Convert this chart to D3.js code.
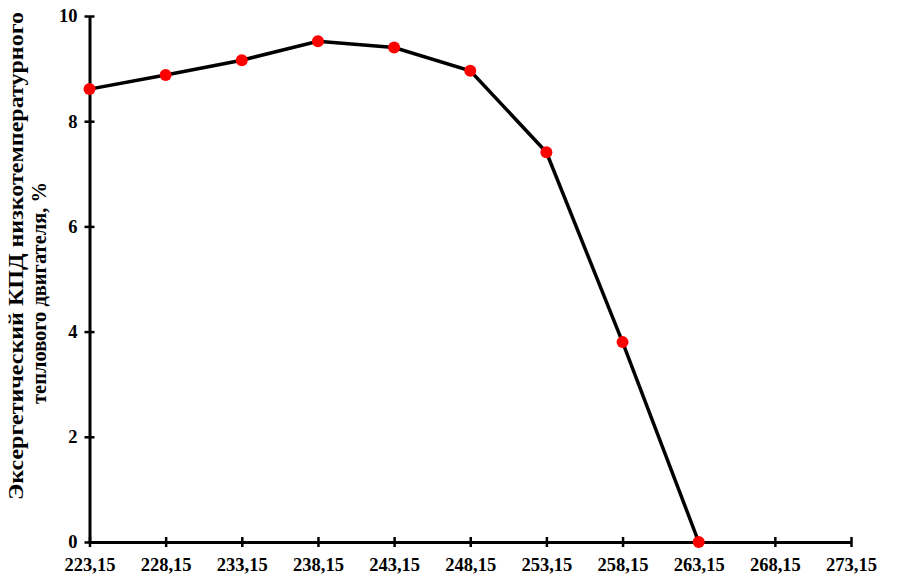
<!DOCTYPE html>
<html>
<head>
<meta charset="utf-8">
<script src="https://cdn.jsdelivr.net/npm/d3@7"></script>
<style>
  body { margin: 0; background: #fff; }
  svg text { font-family: "Liberation Serif", "Times New Roman", serif; font-weight: bold; fill: #000; }
</style>
</head>
<body>
<div id="chart"></div>
<script>
// Data
const temperatures = [223.15, 228.15, 233.15, 238.15, 243.15, 248.15, 253.15, 258.15, 263.15];
const efficiency = [8.61, 8.88, 9.16, 9.52, 9.40, 8.96, 7.41, 3.80, 0];
const xTicks = [223.15, 228.15, 233.15, 238.15, 243.15, 248.15, 253.15, 258.15, 263.15, 268.15, 273.15];
const yTicks = [0, 2, 4, 6, 8, 10];
const yLabelLines = ["Эксергетический КПД низкотемпературного", "теплового двигателя, %"];

const width = 913;
const height = 578;
const margin = { top: 16, right: 62, bottom: 36, left: 89.5 };

const svg = d3.select("#chart")
    .append("svg")
    .attr("width", width)
    .attr("height", height);

const x = d3.scaleLinear()
    .domain([223.15, 273.15])
    .range([margin.left, width - margin.right]);

const y = d3.scaleLinear()
    .domain([0, 10])
    .range([height - margin.bottom, margin.top]);

const fmt = d => d.toFixed(2).replace(".", ",");

// Axes: ticks cross the axis line
const xAxis = svg.append("g")
    .attr("transform", `translate(0,${y(0)})`)
    .call(d3.axisBottom(x).tickValues(xTicks).tickFormat(fmt).tickSize(0).tickPadding(16));
xAxis.selectAll(".tick line").attr("y1", -5).attr("y2", 5);

const yAxis = svg.append("g")
    .attr("transform", `translate(${x(223.15)},0)`)
    .call(d3.axisLeft(y).tickValues(yTicks).tickSize(0).tickPadding(12));
yAxis.selectAll(".tick line").attr("x1", -5).attr("x2", 5);

svg.selectAll(".domain").attr("stroke", "#000").attr("stroke-width", 3);
svg.selectAll(".tick line").attr("stroke", "#000").attr("stroke-width", 2.5);
svg.selectAll(".tick text").style("font-size", "18.5px");
xAxis.selectAll(".tick text").attr("dy", "0.71em");

// Y label, two lines (rotated)
const labelSpec = [
    { cy: 256, base: 23, len: 488 },
    { cy: 293, base: 46, len: 222 }
];
svg.append("g")
    .selectAll("text")
    .data(yLabelLines)
    .join("text")
    .attr("transform", (d, i) => `translate(${labelSpec[i].base},${labelSpec[i].cy}) rotate(-90)`)
    .attr("text-anchor", "middle")
    .attr("x", 0)
    .attr("y", 0)
    .attr("textLength", (d, i) => labelSpec[i].len)
    .attr("lengthAdjust", "spacingAndGlyphs")
    .style("font-size", "22px")
    .text(d => d);

// Line and markers
const pts = temperatures.map((t, i) => ({ t, v: efficiency[i] }));

svg.append("path")
    .datum(pts)
    .attr("fill", "none")
    .attr("stroke", "#000")
    .attr("stroke-width", 3.5)
    .attr("d", d3.line().x(d => x(d.t)).y(d => y(d.v)));

svg.append("g")
    .selectAll("circle")
    .data(pts)
    .join("circle")
    .attr("cx", d => x(d.t))
    .attr("cy", d => y(d.v))
    .attr("r", 6)
    .attr("fill", "#ff0000");
</script>
</body>
</html>
